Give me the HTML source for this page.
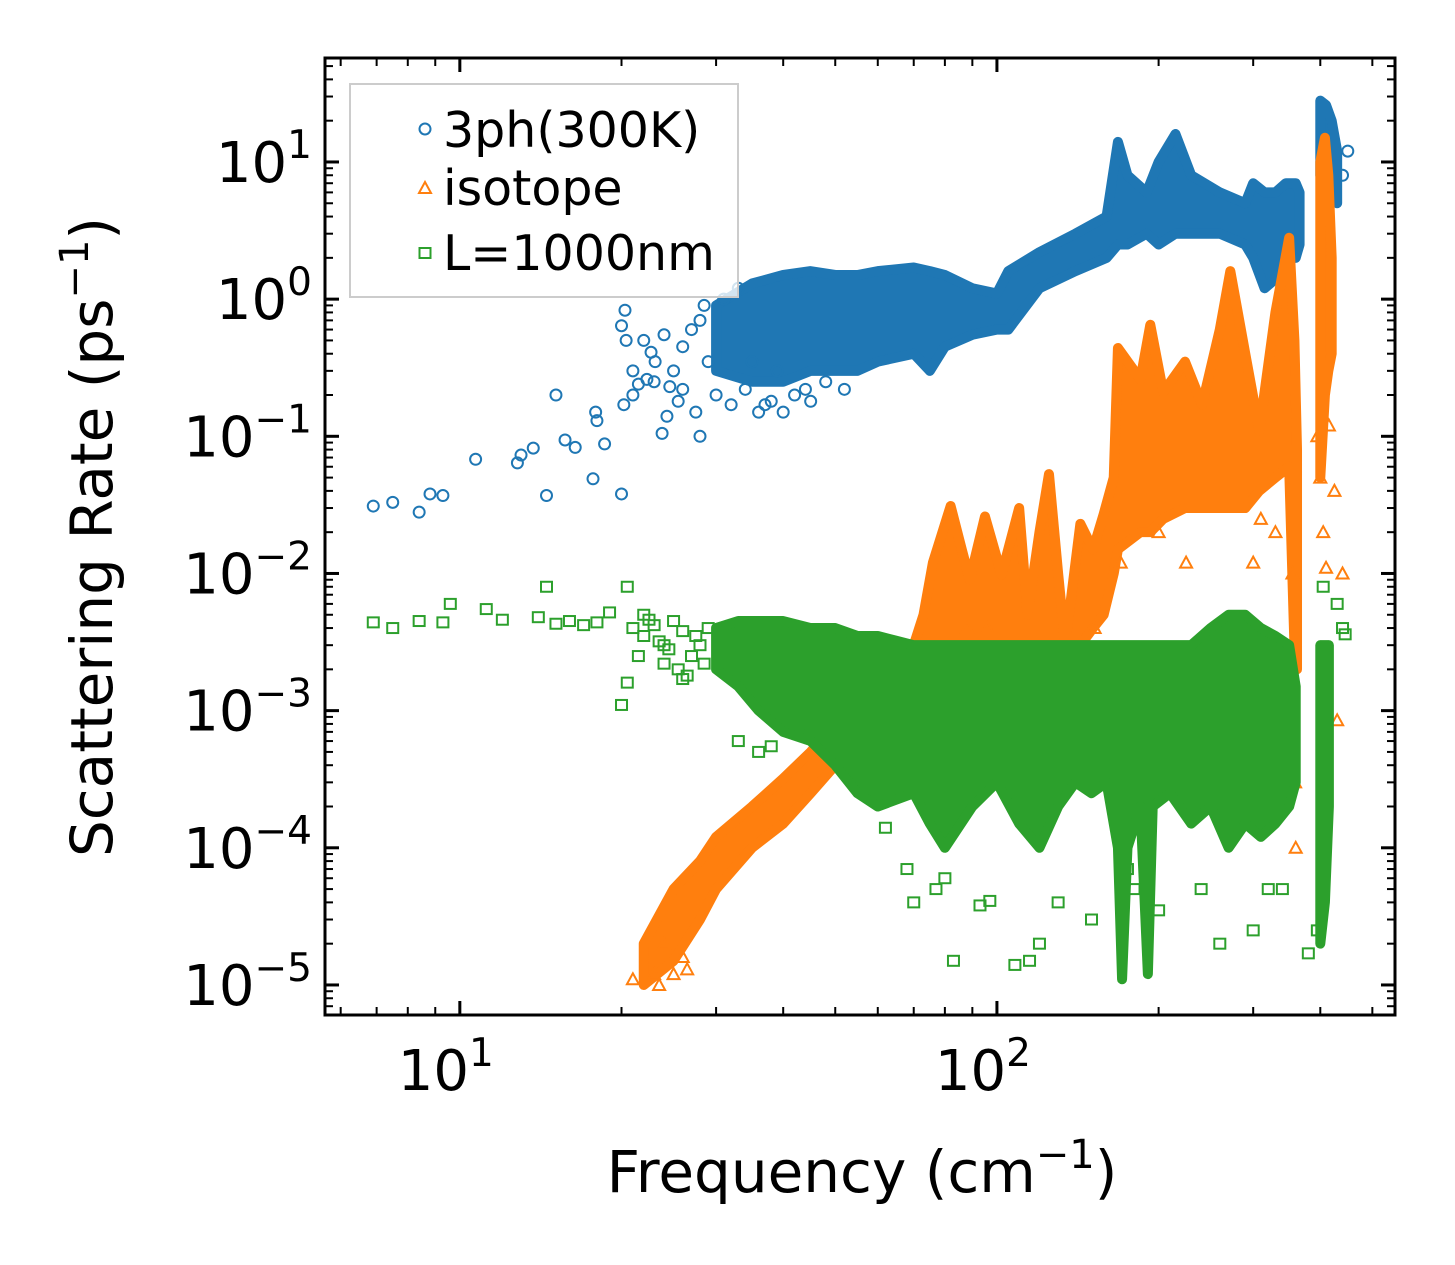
<!DOCTYPE html>
<html><head><meta charset="utf-8"><style>
html,body{margin:0;padding:0;background:#fff;}
svg text{font-family:"DejaVu Sans","Liberation Sans",sans-serif;fill:#000;}
</style></head><body>
<svg id="chart" width="1455" height="1265" xmlns="http://www.w3.org/2000/svg" style="position:absolute;left:0;top:0">
<rect x="0" y="0" width="1455" height="1265" fill="#fff"/>
<g id="marks"></g><g id="axes"></g>
</svg>
<script>
const xTicks=[10,100];
const yTicks=[1e-5,1e-4,1e-3,1e-2,1e-1,1,10];
const yTickExp=["−5","−4","−3","−2","−1","0","1"];
// dense envelopes: [freq, low, high]
const blueBand=[[30,0.3,0.9],[35,0.25,1.3],[40,0.25,1.5],[45,0.3,1.6],[50,0.3,1.5],[55,0.3,1.5],[60,0.35,1.6],[70,0.4,1.7],[75,0.3,1.6],[80,0.45,1.5],[90,0.55,1.2],[100,0.6,1.1],[105,0.6,1.6],[120,1.2,2.2],[140,1.6,3],[160,2,4],[168,2.5,14],[175,2.5,8],[190,3,6],[200,2.5,10],[215,3,16],[230,3,8],[260,3,6],[290,2.5,5],[300,2,7],[315,1.2,6],[330,1.4,6],[345,2,7],[360,2,7],[366,2.5,6]];
const blueSpike=[[400,8,28],[410,6,26],[420,6,20],[430,5,12]];
const orangeBand=[[22,1e-5,2e-5],[25,1.5e-5,5e-5],[28,3e-5,8e-5],[30,5e-5,1.2e-4],[35,1e-4,2e-4],[40,1.5e-4,3.2e-4],[45,2.5e-4,5e-4],[50,4e-4,8e-4],[55,7e-4,1.5e-3],[60,1.2e-3,2.5e-3],[70,2e-3,3e-3],[73,2.5e-3,5e-3],[76,2.5e-3,0.012],[82,2.5e-3,0.031],[86,2.5e-3,0.015],[89,2.5e-3,0.009],[95,2.5e-3,0.026],[102,2.5e-3,0.0098],[110,2.5e-3,0.03],[114,2.5e-3,0.005],[120,2.5e-3,0.02],[125,2.5e-3,0.053],[130,2.5e-3,0.01],[134,2.5e-3,0.003],[143,3e-3,0.023],[151,4e-3,0.015],[158,5e-3,0.027],[165,0.01,0.05],[168,0.015,0.44],[185,0.02,0.26],[193,0.02,0.65],[204,0.025,0.21],[224,0.03,0.35],[241,0.03,0.17],[260,0.03,0.6],[272,0.03,1.6],[290,0.03,0.4],[308,0.04,0.11],[330,0.05,0.8],[350,0.06,2.8],[358,0.003,0.5],[362,0.002,0.08]];
const orangeSpike=[[400,0.05,10],[408,0.2,15],[414,0.3,8],[420,0.4,2]];
const greenBand=[[30,2e-3,4e-3],[33,1.5e-3,4.5e-3],[36,1e-3,4.5e-3],[40,7e-4,4.5e-3],[45,6e-4,4e-3],[50,4e-4,4e-3],[55,2.5e-4,3.5e-3],[60,2e-4,3.5e-3],[70,2.5e-4,3e-3],[75,1.5e-4,3e-3],[80,1e-4,3e-3],[90,2e-4,3e-3],[100,3e-4,3e-3],[110,1.5e-4,3e-3],[120,1e-4,3e-3],[130,2e-4,3e-3],[140,3e-4,3e-3],[150,2.5e-4,3e-3],[160,3e-4,3e-3],[168,1e-4,3e-3],[171,1.1e-5,3e-3],[175,1e-4,3e-3],[185,2e-4,3e-3],[191,1.2e-5,3e-3],[195,2e-4,3e-3],[210,2.5e-4,3e-3],[230,1.5e-4,3e-3],[250,2e-4,4e-3],[270,1e-4,5e-3],[290,1.5e-4,5e-3],[310,1.2e-4,4e-3],[330,1.5e-4,3.5e-3],[350,2e-4,3e-3],[360,3e-4,1.5e-3]];
const greenSpike=[[400,2e-5,3e-3],[408,4e-5,3e-3],[415,2e-4,3e-3]];
// sparse points
const blueFreq=[6.9,7.5,8.4,8.8,9.3,10.7,12.8,13.0,13.7,14.5,15.1,15.7,16.4,17.7,17.9,18.6,20,20.2,20.4,21,21.5,22.3,22.7,23.1,23.8,24.3,24.6,20,28,40,45,20.3,18,450,440,22,24,25,26,27,28,29,21,23,25.5,27.5,30,32,34,36,38,42,48,52,26,28.5,31,33,35,37,39,44];
const blueRate=[0.031,0.033,0.028,0.038,0.037,0.068,0.064,0.073,0.082,0.037,0.2,0.094,0.083,0.049,0.15,0.088,0.64,0.17,0.5,0.2,0.24,0.26,0.41,0.35,0.105,0.14,0.23,0.038,0.1,0.15,0.18,0.83,0.13,12,8,0.5,0.55,0.3,0.45,0.6,0.7,0.35,0.3,0.25,0.18,0.15,0.2,0.17,0.22,0.15,0.18,0.2,0.25,0.22,0.22,0.9,1.0,1.2,0.35,0.17,0.3,0.22,0.26];
const orangeFreq=[21,23,25,26,88,96,152,170,200,225,300,310,330,355,360,395,400,405,410,430,440,415,425,359,23.5,24,26.5];
const orangeRate=[1.1e-5,1.2e-5,1.2e-5,1.6e-5,4e-3,4e-3,4e-3,0.012,0.02,0.012,0.012,0.025,0.02,0.01,1e-4,0.1,0.05,0.02,0.011,8.5e-4,0.01,0.12,0.04,3e-4,1e-5,2e-5,1.3e-5];
const greenFreq=[6.9,7.5,8.4,9.6,9.3,11.2,12,14,14.5,15.1,16,17,18,19,20.5,20,20.5,22,24,26,28,33,36,38,83,93,97,77,80,70,68,62,108,115,120,130,150,175,180,200,240,260,300,320,340,380,395,405,430,440,445,60,45,21,22,23,24,25,26,27,29,21.5,23.5,25.5,27.5,22.5,24.5,26.5,28.5];
const greenRate=[4.4e-3,4e-3,4.5e-3,6e-3,4.4e-3,5.5e-3,4.6e-3,4.8e-3,8e-3,4.3e-3,4.5e-3,4.2e-3,4.4e-3,5.2e-3,8e-3,1.1e-3,1.6e-3,5e-3,2.2e-3,1.7e-3,3e-3,6e-4,5e-4,5.5e-4,1.5e-5,3.8e-5,4.1e-5,5e-5,6e-5,4e-5,7e-5,1.4e-4,1.4e-5,1.5e-5,2e-5,4e-5,3e-5,7e-5,5e-5,3.5e-5,5e-5,2e-5,2.5e-5,5e-5,5e-5,1.7e-5,2.5e-5,8e-3,6e-3,4e-3,3.6e-3,5e-4,8e-4,4e-3,3.5e-3,4.2e-3,3e-3,4.5e-3,3.8e-3,2.5e-3,4e-3,2.5e-3,3.2e-3,2e-3,3.5e-3,4.6e-3,2.8e-3,1.8e-3,2.2e-3];

const L=325,R=1395,T=58,B=1015;
const lxMin=Math.log10(5.61),lxMax=Math.log10(551),lyMin=-5.219,lyMax=1.758;
function X(f){return L+(Math.log10(f)-lxMin)/(lxMax-lxMin)*(R-L);}
function Y(v){return B-(Math.log10(v)-lyMin)/(lyMax-lyMin)*(B-T);}
const NS="http://www.w3.org/2000/svg";
function mk(tag,parent,attrs){const e=document.createElementNS(NS,tag);for(const k in attrs)e.setAttribute(k,attrs[k]);parent.appendChild(e);return e;}
const marks=document.getElementById('marks'),axes=document.getElementById('axes');
function band(arr,color,name){
  let pts=arr.map(d=>X(d[0])+','+Y(d[2]));
  pts=pts.concat(arr.slice().reverse().map(d=>X(d[0])+','+Y(d[1])));
  const p=mk('polygon',marks,{points:pts.join(' '),fill:color,stroke:color,'stroke-width':10,'stroke-linejoin':'round'});
  
  
}
function circle(g,x,y){return mk('circle',g,{cx:x,cy:y,r:5.5,fill:'none',stroke:'#1f77b4','stroke-width':2});}
function tri(g,x,y){return mk('polygon',g,{points:`${x},${y-6} ${x-6},${y+5} ${x+6},${y+5}`,fill:'none',stroke:'#ff7f0e','stroke-width':2});}
function sq(g,x,y){return mk('rect',g,{x:x-5.5,y:y-5,width:11,height:10,fill:'none',stroke:'#2ca02c','stroke-width':2});}
band(blueBand,'#1f77b4','blue-dense-band');band(blueSpike,'#1f77b4','blue-spike-band');
blueFreq.forEach((f,i)=>{const e=circle(marks,X(f),Y(blueRate[i]));

});
band(orangeBand,'#ff7f0e','orange-dense-band');band(orangeSpike,'#ff7f0e','orange-spike-band');
orangeFreq.forEach((f,i)=>{const e=tri(marks,X(f),Y(orangeRate[i]));

});
band(greenBand,'#2ca02c','green-dense-band');band(greenSpike,'#2ca02c','green-spike-band');
greenFreq.forEach((f,i)=>{const e=sq(marks,X(f),Y(greenRate[i]));

});
const fr=mk('rect',axes,{x:L,y:T,width:R-L,height:B-T,fill:'none',stroke:'#000','stroke-width':3});


function tick(x1,y1,x2,y2,w){mk('line',axes,{x1,y1,x2,y2,stroke:'#000','stroke-width':w});}
for(let d=1;d<=1000;d*=10){for(let m=1;m<10;m++){const f=d*m;const x=X(f);if(x<L+1||x>R-1)continue;const len=m===1?14:8,w=m===1?3:2;tick(x,B,x,B-len,w);tick(x,T,x,T+len,w);}}
xTicks.forEach((f,i)=>{const t=mk('text',axes,{x:X(f)-14,y:1090,'font-size':56,'text-anchor':'middle'});t.innerHTML='10<tspan dy="-24" font-size="39">'+(i+1)+'</tspan>';

});
for(let e=-6;e<=1;e++){for(let m=1;m<10;m++){const v=m*Math.pow(10,e);const y=Y(v);if(y<T+1||y>B-1)continue;const len=m===1?14:8,w=m===1?3:2;tick(L,y,L+len,y,w);tick(R,y,R-len,y,w);}}
yTicks.forEach((v,i)=>{const t=mk('text',axes,{x:312,y:Y(v)+20,'font-size':56,'text-anchor':'end'});t.innerHTML='10<tspan dy="-24" font-size="39">'+yTickExp[i]+'</tspan>';

});
</script>
<svg style="position:absolute;left:0;top:0" width="1455" height="1265">
<text x="862" y="1192" font-size="58" text-anchor="middle">Frequency (cm<tspan dy="-24" font-size="40">−1</tspan><tspan dy="24">)</tspan></text>
<text transform="translate(112,537) rotate(-90)" font-size="58" text-anchor="middle">Scattering Rate (ps<tspan dy="-24" font-size="40">−1</tspan><tspan dy="24">)</tspan></text>
<g>
<rect x="350" y="84" width="388" height="213" fill="#fff" fill-opacity="0.8" stroke="#ccc" stroke-width="2"/>
<circle cx="425" cy="129" r="5.5" fill="none" stroke="#1f77b4" stroke-width="2"/>
<text x="443" y="147" font-size="49">3ph(300K)</text>
<polygon points="425,182 419,193 431,193" fill="none" stroke="#ff7f0e" stroke-width="2"/>
<text x="443" y="205" font-size="49">isotope</text>
<rect x="419.5" y="248" width="11" height="10" fill="none" stroke="#2ca02c" stroke-width="2"/>
<text x="443" y="270" font-size="49">L=1000nm</text>
</g>
</svg>
</body></html>
